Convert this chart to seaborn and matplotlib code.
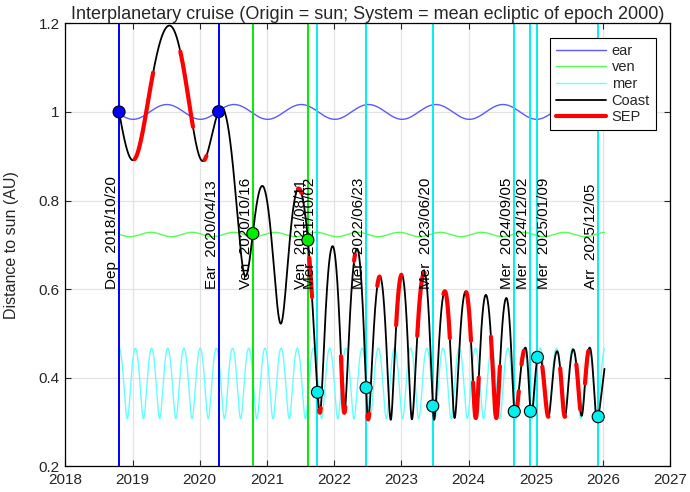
import numpy as np
import pandas as pd
import seaborn as sns
import matplotlib
matplotlib.use("Agg")
import matplotlib.pyplot as plt
from matplotlib.lines import Line2D

# planets: orbital elements (AU, years)
planet_names = ["ear", "ven", "mer"]
planet_a = [1.000, 0.7233, 0.3871]
planet_e = [0.0167, 0.0068, 0.2056]
planet_period = [1.0000, 0.6152, 0.24085]
planet_tperi = [2019.01, 2022.04, 2021.09]
planet_colors = ["#5a5aff", "#55ff55", "#66ffff"]

# spacecraft: start, alternating perihelia / aphelia, end (year, AU)
traj_t = [2018.80, 2019.006, 2019.55, 2020.045, 2020.33, 2020.68, 2020.93, 2021.205,
          2021.47, 2021.787, 2021.976, 2022.15, 2022.34, 2022.505, 2022.68, 2022.84,
          2023.005, 2023.155, 2023.34, 2023.485, 2023.645, 2023.79, 2023.955, 2024.105,
          2024.255, 2024.41, 2024.56, 2024.69, 2024.845, 2024.93, 2025.045, 2025.185,
          2025.315, 2025.43, 2025.555, 2025.68, 2025.80, 2025.905, 2026.02]
traj_r = [1.000, 0.891, 1.195, 0.889, 1.008, 0.629, 0.833, 0.522,
          0.827, 0.321, 0.697, 0.321, 0.691, 0.306, 0.629, 0.305,
          0.633, 0.306, 0.637, 0.305, 0.595, 0.309, 0.595, 0.309,
          0.587, 0.309, 0.580, 0.312, 0.468, 0.313, 0.456, 0.312,
          0.460, 0.312, 0.464, 0.314, 0.468, 0.305, 0.420]

# thrust (SEP) arcs
sep_start = [2019.03, 2019.71, 2020.07, 2021.46, 2021.63, 2021.775, 2022.10, 2022.295,
             2022.495, 2022.64, 2022.92, 2023.235, 2023.625, 2023.965, 2024.065, 2024.33,
             2024.71, 2024.785, 2025.095, 2025.36, 2025.60, 2025.73]
sep_end = [2019.31, 2019.90, 2020.10, 2021.51, 2021.67, 2021.80, 2022.165, 2022.31,
           2022.52, 2022.675, 2023.00, 2023.345, 2023.72, 2024.035, 2024.15, 2024.465,
           2024.745, 2024.82, 2025.185, 2025.435, 2025.66, 2025.78]

# events
fly_body = ["Dep", "Ear", "Ven", "Ven", "Mer", "Mer", "Mer", "Mer", "Mer", "Mer", "Arr"]
fly_date = ["2018/10/20", "2020/04/13", "2020/10/16", "2021/08/11", "2021/10/02", "2022/06/23",
            "2023/06/20", "2024/09/05", "2024/12/02", "2025/01/09", "2025/12/05"]
body_colors = {"Dep": "#0000ff", "Ear": "#0000ff", "Ven": "#00ee00", "Mer": "#00f0f0", "Arr": "#00f0f0"}
label_side = ["right"] * 9 + ["left", "right"]

x_ticks = list(range(2018, 2028))
y_ticks = [0.2, 0.4, 0.6, 0.8, 1.0, 1.2]
y_ticklabels = ["0.2", "0.4", "0.6", "0.8", "1", "1.2"]


def year_frac(s):
    d = pd.Timestamp(s.replace("/", "-"))
    n = 366 if d.is_leap_year else 365
    return d.year + (d.dayofyear - 1) / n


def kepler_arc(t0, r0, t1, r1, q, Q, n=150):
    # piece of a conic between two radii, time ~ mean anomaly
    a = (q + Q) / 2
    e = (Q - q) / (Q + q)
    rising = r1 > r0

    def anom(r):
        E = np.arccos(np.clip((1 - r / a) / e, -1, 1))
        return E if rising else 2 * np.pi - E

    E = np.linspace(anom(r0), anom(r1), n)
    M = E - e * np.sin(E)
    t = t0 + (t1 - t0) * (M - M[0]) / (M[-1] - M[0])
    return t, a * (1 - e * np.cos(E))


def planet_curve(a, e, period, tperi, t0, t1, n=6000):
    m0 = 2 * np.pi * (t0 - tperi) / period
    m1 = 2 * np.pi * (t1 - tperi) / period
    E = np.linspace(m0 - 1, m1 + 1, n)
    t = tperi + period * (E - e * np.sin(E)) / (2 * np.pi)
    keep = (t >= t0) & (t <= t1)
    return t[keep], (a * (1 - e * np.cos(E)))[keep]


# build spacecraft curve
ts, rs = [], []
last = len(traj_t) - 2
for i in range(len(traj_t) - 1):
    r0, r1 = traj_r[i], traj_r[i + 1]
    if i == 0:
        q, Q = sorted([traj_r[1], traj_r[2]])
    elif i == last:
        q, Q = sorted([traj_r[-2], traj_r[-3]])
    else:
        q, Q = sorted([r0, r1])
    t, r = kepler_arc(traj_t[i], r0, traj_t[i + 1], r1, q, Q)
    if i > 0:
        t, r = t[1:], r[1:]
    ts.append(t)
    rs.append(r)
sc_t = np.concatenate(ts)
sc_r = np.concatenate(rs)

sep_parts = []
for k, (s, e) in enumerate(zip(sep_start, sep_end)):
    m = (sc_t >= s) & (sc_t <= e)
    sep_parts.append(pd.DataFrame({"t": sc_t[m], "r": sc_r[m], "seg": k}))
sep_df = pd.concat(sep_parts, ignore_index=True)

fly_t = np.array([year_frac(d) for d in fly_date])
fly_r = np.interp(fly_t, sc_t, sc_r)

# style
sns.set_theme(style="whitegrid")
plt.rcParams["font.family"] = ["Liberation Sans", "DejaVu Sans"]
plt.rcParams.update({
    "axes.edgecolor": "black", "axes.linewidth": 0.9, "grid.color": "#e3e3e3",
    "grid.linewidth": 0.9, "xtick.direction": "in", "ytick.direction": "in",
    "xtick.top": True, "ytick.right": True, "xtick.bottom": True, "ytick.left": True,
    "xtick.major.size": 4, "ytick.major.size": 4, "xtick.major.width": 0.8,
    "ytick.major.width": 0.8, "xtick.color": "#262626", "ytick.color": "#262626",
})

fig = plt.figure(figsize=(6.9, 4.92), dpi=100)
ax = fig.add_axes([0.0946, 0.0522, 0.877, 0.9004])

t_start, t_end = traj_t[0], traj_t[-1]
for name, a, e, p, tp, c in zip(planet_names, planet_a, planet_e, planet_period, planet_tperi, planet_colors):
    pt, pr = planet_curve(a, e, p, tp, t_start, t_end)
    sns.lineplot(x=pt, y=pr, ax=ax, color=c, lw=1.0, sort=False, estimator=None, zorder=2)

for t, b in zip(fly_t, fly_body):
    ax.axvline(t, color=body_colors[b], lw=1.4, zorder=2.5)

sns.lineplot(x=sc_t, y=sc_r, ax=ax, color="black", lw=1.3, sort=False, estimator=None, zorder=3)
sns.lineplot(data=sep_df, x="t", y="r", units="seg", estimator=None, sort=False,
             ax=ax, color="red", lw=3.0, zorder=3.5)

sns.scatterplot(x=fly_t, y=fly_r, hue=fly_body, palette=body_colors, legend=False,
                s=75, edgecolor="black", linewidth=0.8, ax=ax, zorder=5)

for t, b, d, side in zip(fly_t, fly_body, fly_date, label_side):
    ax.text(t, 0.6, f"{b}  {d}", rotation=90, ha=side, va="bottom",
            fontsize=11, color="black", zorder=4)

ax.set_xlim(2018, 2027)
ax.set_ylim(0.2, 1.2)
ax.set_xticks(x_ticks)
ax.set_xticklabels([str(x) for x in x_ticks], fontsize=11)
ax.set_yticks(y_ticks)
ax.set_yticklabels(y_ticklabels, fontsize=11)
ax.tick_params(axis="x", pad=5)
ax.tick_params(axis="y", pad=4)
ax.set_xlabel("")
ax.set_ylabel("Distance to sun (AU)", fontsize=11.5)
ax.yaxis.set_label_coords(-0.076, 0.5)
ax.set_title("Interplanetary cruise (Origin = sun; System = mean ecliptic of epoch 2000)",
             fontsize=13, pad=2)

handles = [Line2D([], [], color=c, lw=1.0) for c in planet_colors]
handles += [Line2D([], [], color="black", lw=1.3), Line2D([], [], color="red", lw=3.0)]
leg = ax.legend(handles, planet_names + ["Coast", "SEP"], loc="upper right", fontsize=10.5,
                frameon=True, fancybox=False, framealpha=1, edgecolor="black",
                handlelength=3.4, handletextpad=0.4, labelspacing=0.18,
                borderaxespad=1.0, borderpad=0.4)
leg.get_frame().set_linewidth(0.8)
leg.set_zorder(10)

fig.savefig("out.png", dpi=100)
